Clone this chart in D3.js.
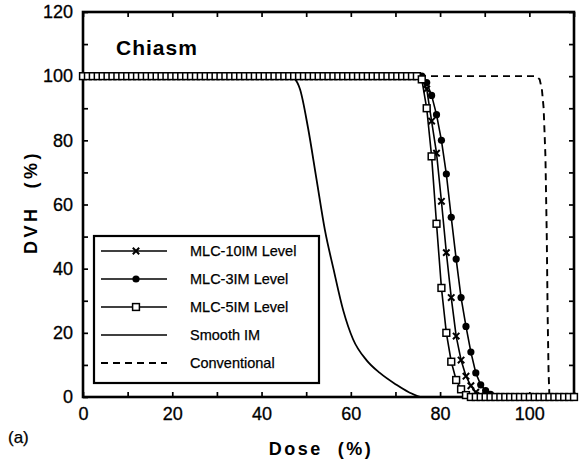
<!DOCTYPE html>
<html>
<head>
<meta charset="utf-8">
<script src="https://cdn.jsdelivr.net/npm/d3@7"></script>
<style>
  body { margin: 0; background: #fff; }
  text { font-family: "Liberation Sans", Arial, sans-serif; fill: #000; }
</style>
</head>
<body>
<script>
// dose bins shared by the three MLC curves (%)
const doseBins = [
  0, 1.1, 2.2, 3.3, 4.4, 5.5, 6.6, 7.7, 8.8, 9.9,
  11, 12.1, 13.2, 14.3, 15.4, 16.5, 17.6, 18.7, 19.8, 20.9,
  22, 23.1, 24.2, 25.3, 26.4, 27.5, 28.6, 29.7, 30.8, 31.9,
  33, 34.1, 35.2, 36.3, 37.4, 38.5, 39.6, 40.7, 41.8, 42.9,
  44, 45.1, 46.2, 47.3, 48.4, 49.5, 50.6, 51.7, 52.8, 53.9,
  55, 56.1, 57.2, 58.3, 59.4, 60.5, 61.6, 62.7, 63.8, 64.9,
  66, 67.1, 68.2, 69.3, 70.4, 71.5, 72.6, 73.7, 74.8, 75.9,
  77, 78.1, 79.2, 80.3, 81.4, 82.5, 83.6, 84.7, 85.8, 86.9,
  88, 89.1, 90.2, 91.3, 92.4, 93.5, 94.6, 95.7, 96.8, 97.9,
  99, 100.1, 101.2, 102.3, 103.4, 104.5, 105.6, 106.7, 107.8, 108.9,
  110
];

const mlc10 = [
  100, 100, 100, 100, 100, 100, 100, 100, 100, 100,
  100, 100, 100, 100, 100, 100, 100, 100, 100, 100,
  100, 100, 100, 100, 100, 100, 100, 100, 100, 100,
  100, 100, 100, 100, 100, 100, 100, 100, 100, 100,
  100, 100, 100, 100, 100, 100, 100, 100, 100, 100,
  100, 100, 100, 100, 100, 100, 100, 100, 100, 100,
  100, 100, 100, 100, 100, 100, 100, 100, 100, 99.5,
  96, 86, 76, 61, 45, 31, 19, 11.5, 6.5, 3.5,
  1.5, 0.5, 0, 0, 0, 0, 0, 0, 0, 0,
  0, 0, 0, 0, 0, 0, 0, 0, 0, 0,
  0
];

const mlc3 = [
  100, 100, 100, 100, 100, 100, 100, 100, 100, 100,
  100, 100, 100, 100, 100, 100, 100, 100, 100, 100,
  100, 100, 100, 100, 100, 100, 100, 100, 100, 100,
  100, 100, 100, 100, 100, 100, 100, 100, 100, 100,
  100, 100, 100, 100, 100, 100, 100, 100, 100, 100,
  100, 100, 100, 100, 100, 100, 100, 100, 100, 100,
  100, 100, 100, 100, 100, 100, 100, 100, 100, 100,
  98, 94, 88, 80, 69.5, 56, 43, 31, 22, 14,
  7.5, 3.8, 2, 0.8, 0, 0, 0, 0, 0, 0,
  0, 0, 0, 0, 0, 0, 0, 0, 0, 0,
  0
];

const mlc5 = [
  100, 100, 100, 100, 100, 100, 100, 100, 100, 100,
  100, 100, 100, 100, 100, 100, 100, 100, 100, 100,
  100, 100, 100, 100, 100, 100, 100, 100, 100, 100,
  100, 100, 100, 100, 100, 100, 100, 100, 100, 100,
  100, 100, 100, 100, 100, 100, 100, 100, 100, 100,
  100, 100, 100, 100, 100, 100, 100, 100, 100, 100,
  100, 100, 100, 100, 100, 100, 100, 100, 100, 99,
  90, 75, 54, 34, 20, 11, 5.3, 2.4, 0.6, 0,
  0, 0, 0, 0, 0, 0, 0, 0, 0, 0,
  0, 0, 0, 0, 0, 0, 0, 0, 0, 0,
  0
];

const smoothDose = [0, 46, 47.5, 48.6, 50.4, 52.3, 54.2, 56.1, 58.3, 60.5, 63.5, 66.5, 70, 73, 76, 110];
const smoothVol  = [100, 100, 99, 96, 84, 68, 52, 40, 27, 18, 11.5, 7.5, 4, 1.5, 0, 0];

const convDose = [0, 101.5, 102.3, 102.8, 103.2, 103.6, 103.9, 104.1, 104.3, 104.5, 110];
const convVol  = [100, 100, 99, 96, 90, 75, 50, 25, 8, 0, 0];

const xTicks = [0, 10, 20, 30, 40, 50, 60, 70, 80, 90, 100, 110];
const xLabels = [0, 20, 40, 60, 80, 100];
const yTicks = [0, 10, 20, 30, 40, 50, 60, 70, 80, 90, 100, 110, 120];
const yLabels = [0, 20, 40, 60, 80, 100, 120];

const legendNames = ['MLC-10IM Level', 'MLC-3IM Level', 'MLC-5IM Level', 'Smooth IM', 'Conventional'];

const width = 580;
const height = 463;

const x = d3.scaleLinear().domain([0, 110]).range([83, 574]);
const y = d3.scaleLinear().domain([0, 120]).range([397, 12]);

const svg = d3.select('body')
  .append('svg')
  .attr('width', width)
  .attr('height', height);

// axes with inward ticks
const axisBottomG = svg.append('g')
  .attr('transform', 'translate(0,' + y(0) + ')')
  .call(d3.axisBottom(x).tickValues(xTicks).tickSize(-5).tickPadding(10)
    .tickFormat(d => xLabels.includes(d) ? d : ''));
const axisLeftG = svg.append('g')
  .attr('transform', 'translate(' + x(0) + ',0)')
  .call(d3.axisLeft(y).tickValues(yTicks).tickSize(-5).tickPadding(10)
    .tickFormat(d => yLabels.includes(d) ? d : ''));
const axisTopG = svg.append('g')
  .attr('transform', 'translate(0,' + y(120) + ')')
  .call(d3.axisTop(x).tickValues(xTicks).tickSize(-5).tickFormat(''));
const axisRightG = svg.append('g')
  .attr('transform', 'translate(' + x(110) + ',0)')
  .call(d3.axisRight(y).tickValues(yTicks).tickSize(-5).tickFormat(''));

[axisBottomG, axisLeftG, axisTopG, axisRightG].forEach(g => {
  g.select('.domain').remove();
  g.selectAll('line').attr('stroke', '#000').attr('stroke-width', 1.7);
  g.selectAll('text').attr('font-size', 18).attr('fill', '#000')
    .attr('stroke', '#000').attr('stroke-width', 0.3)
    .style('font-family', '"Liberation Sans", Arial, sans-serif');
});

svg.append('rect')
  .attr('x', x(0)).attr('y', y(120))
  .attr('width', x(110) - x(0)).attr('height', y(0) - y(120))
  .attr('fill', 'none').attr('stroke', '#000').attr('stroke-width', 2.6);

const line = d3.line().x(d => x(d[0])).y(d => y(d[1]));

// smooth IM
svg.append('path')
  .datum(d3.zip(smoothDose, smoothVol))
  .attr('d', line.curve(d3.curveMonotoneX))
  .attr('fill', 'none').attr('stroke', '#000').attr('stroke-width', 1.8);

line.curve(d3.curveLinear);

// conventional
svg.append('path')
  .datum(d3.zip(convDose, convVol))
  .attr('d', line)
  .attr('fill', 'none').attr('stroke', '#000').attr('stroke-width', 1.9)
  .attr('stroke-dasharray', '7,5');

function drawMarker(g, kind) {
  if (kind === 'x') {
    g.append('path').attr('d', 'M-3.2,-3.2L3.2,3.2M-3.2,3.2L3.2,-3.2')
      .attr('stroke', '#000').attr('stroke-width', 2).attr('fill', 'none');
  } else if (kind === 'circle') {
    g.append('circle').attr('r', 3.6).attr('fill', '#000');
  } else {
    g.append('rect').attr('x', -3.4).attr('y', -3.4).attr('width', 6.8).attr('height', 6.8)
      .attr('fill', '#fff').attr('stroke', '#000').attr('stroke-width', 1.5);
  }
}

const mlcSeries = [
  { vals: mlc10, kind: 'x' },
  { vals: mlc3, kind: 'circle' },
  { vals: mlc5, kind: 'square' }
];

mlcSeries.forEach(s => {
  const pts = d3.zip(doseBins, s.vals);
  svg.append('path')
    .datum(pts)
    .attr('d', line)
    .attr('fill', 'none').attr('stroke', '#000').attr('stroke-width', 1.6);
  svg.append('g')
    .selectAll('g')
    .data(pts)
    .join('g')
    .attr('transform', d => 'translate(' + x(d[0]) + ',' + y(d[1]) + ')')
    .each(function () { drawMarker(d3.select(this), s.kind); });
});

// legend
const legend = svg.append('g');
legend.append('rect')
  .attr('x', 94).attr('y', 236).attr('width', 225).attr('height', 147)
  .attr('fill', '#fff').attr('stroke', '#000').attr('stroke-width', 2.2);

const rowY = [251, 279, 307, 335, 363];
legendNames.forEach((name, i) => {
  const row = legend.append('g').attr('transform', 'translate(0,' + rowY[i] + ')');
  row.append('line')
    .attr('x1', 101).attr('x2', 167)
    .attr('stroke', '#000').attr('stroke-width', i === 4 ? 1.9 : 1.7)
    .attr('stroke-dasharray', i === 4 ? '7,5' : null);
  if (i < 3) {
    drawMarker(row.append('g').attr('transform', 'translate(136,0)'), mlcSeries[i].kind);
  }
  row.append('text')
    .attr('x', 190).attr('y', 5)
    .attr('font-size', 14.5)
    .attr('stroke', '#000').attr('stroke-width', 0.25)
    .text(name);
});

// titles
svg.append('text')
  .attr('x', 116).attr('y', 55)
  .attr('font-size', 21).attr('font-weight', 'bold')
  .attr('letter-spacing', 1)
  .text('Chiasm');

svg.append('text')
  .attr('transform', 'translate(37,202) rotate(-90)')
  .attr('text-anchor', 'middle')
  .attr('font-size', 18).attr('font-weight', 'bold')
  .attr('letter-spacing', 3.5)
  .style('white-space', 'pre')
  .text('DVH  (%)');

svg.append('text')
  .attr('x', 321).attr('y', 455)
  .attr('text-anchor', 'middle')
  .attr('font-size', 18).attr('font-weight', 'bold')
  .attr('letter-spacing', 2.5)
  .style('white-space', 'pre')
  .text('Dose  (%)');

svg.append('text')
  .attr('x', 8).attr('y', 443)
  .attr('font-size', 17)
  .attr('stroke', '#000').attr('stroke-width', 0.25)
  .text('(a)');
</script>
</body>
</html>
